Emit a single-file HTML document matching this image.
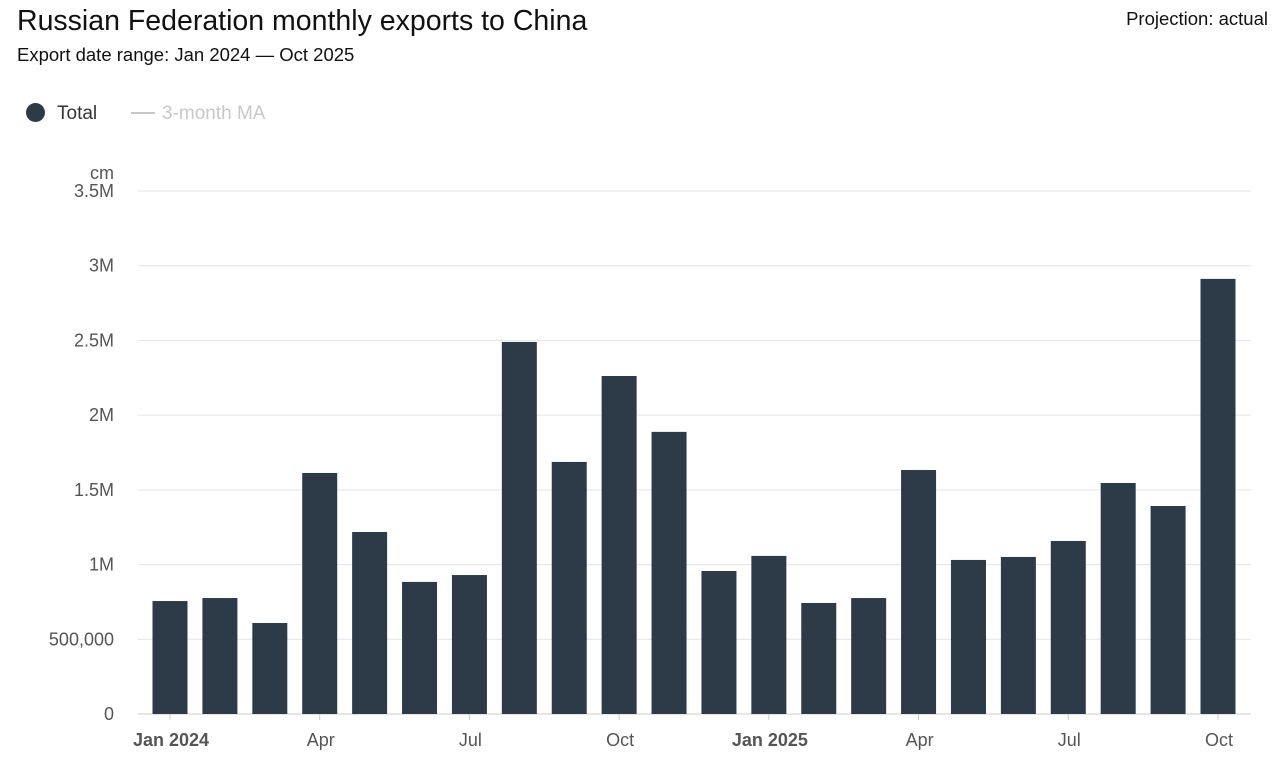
<!DOCTYPE html>
<html><head><meta charset="utf-8">
<style>
body{margin:0;background:#fff;font-family:"Liberation Sans",Arial,sans-serif;}
#wrap{position:relative;width:1279px;height:759px;overflow:hidden;}
.t{position:absolute;white-space:nowrap;}
</style></head><body>
<div id="wrap">
<div class="t" style="left:17px;top:5px;font-size:28.5px;color:#111;">Russian Federation monthly exports to China</div>
<div class="t" style="left:17px;top:44px;font-size:18.5px;color:#111;">Export date range: Jan 2024 — Oct 2025</div>
<div class="t" style="right:11px;top:8px;font-size:18.5px;color:#111;">Projection: actual</div>
<div class="t" style="left:26px;top:103px;font-size:19px;color:#333;"><span style="display:inline-block;width:19px;height:19px;border-radius:50%;background:#2d3b48;vertical-align:-3px;margin-right:12px;"></span>Total</div>
<div class="t" style="left:131px;top:103px;font-size:19px;color:#c8c8c8;"><span style="display:inline-block;width:24px;height:2px;background:#c8c8c8;vertical-align:5px;margin-right:7px;"></span>3-month MA</div>
<svg id="chart" width="1279" height="759" style="position:absolute;left:0;top:0"></svg>
</div>
<script>
const categories=["Jan 2024","Feb","Mar","Apr","May","Jun","Jul","Aug","Sep","Oct","Nov","Dec","Jan 2025","Feb","Mar","Apr","May","Jun","Jul","Aug","Sep","Oct"];
const values=[756000,776000,609000,1613000,1218000,884000,930000,2490000,1687000,2262000,1888000,957000,1058000,743000,776000,1633000,1031000,1051000,1158000,1546000,1392000,2912000];
const yTicks=[0,500000,1000000,1500000,2000000,2500000,3000000,3500000];
const yTickLabels=["0","500,000","1M","1.5M","2M","2.5M","3M","3.5M"];
const xLabelIdx=[0,3,6,9,12,15,18,21];
const xLabels=["Jan 2024","Apr","Jul","Oct","Jan 2025","Apr","Jul","Oct"];

const NS="http://www.w3.org/2000/svg";
const svg=document.getElementById('chart');
const x0=138,x1=1251,y0=714,yTop=191,yMax=3500000;
const y=v=>y0-(v/yMax)*(y0-yTop);
const step=(1218-170)/21;
const xc=i=>170+i*step;
const bw=35;
function mk(t,a){const e=document.createElementNS(NS,t);for(const k in a)e.setAttribute(k,a[k]);svg.appendChild(e);return e;}
yTicks.forEach((v,i)=>{
  const l=mk('line',{x1:x0,x2:x1,y1:y(v),y2:y(v),stroke:i===0?'#ccc':'#e3e3e3','stroke-width':1});
  
  
  const t=mk('text',{x:114,y:y(v)+6,'text-anchor':'end','font-size':18,fill:'#555','font-family':'Liberation Sans, sans-serif'});
  t.textContent=yTickLabels[i];
  
  
});
const u=mk('text',{x:114,y:179,'text-anchor':'end','font-size':18,fill:'#555','font-family':'Liberation Sans, sans-serif'});
u.textContent='cm';


values.forEach((v,i)=>{
  const r=mk('rect',{x:xc(i)-bw/2,y:y(v),width:bw,height:y0-y(v),fill:'#2d3b48'});
  
  
});
xLabelIdx.forEach((idx,k)=>{
  const tk=mk('line',{x1:xc(idx),x2:xc(idx),y1:y0,y2:y0+6,stroke:'#ccc'});
  
  
  const bold=xLabels[k].indexOf('20')>=0;
  const t=mk('text',{x:xc(idx)+1,y:746,'text-anchor':'middle','font-size':18,fill:'#555','font-weight':bold?'bold':'normal','font-family':'Liberation Sans, sans-serif'});
  t.textContent=xLabels[k];
  
  
});
</script>
</body></html>
